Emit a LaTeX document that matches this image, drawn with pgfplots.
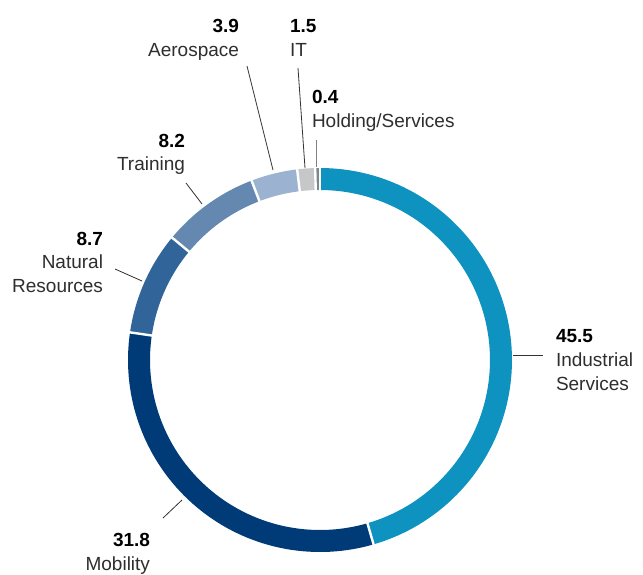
\documentclass[border=0pt]{standalone}
\usepackage{fontspec}
\setmainfont{Liberation Sans}
\usepackage{pgfplots}
\pgfplotsset{compat=1.18}
\definecolor{cIS}{HTML}{0E92C0}
\definecolor{cMob}{HTML}{003B78}
\definecolor{cNR}{HTML}{31659A}
\definecolor{cTr}{HTML}{6488B0}
\definecolor{cAero}{HTML}{9BB3D0}
\definecolor{cIT}{HTML}{C5C7C8}
\definecolor{cHold}{HTML}{7D8790}
\definecolor{lbl}{HTML}{2E2E2E}
\definecolor{ldr}{HTML}{333333}
\newcommand\lf{\fontsize{19}{24}\selectfont}
\tikzset{lab/.style={font=\lf, inner sep=0pt, outer sep=0pt}}
\begin{document}
\begin{tikzpicture}
\begin{axis}[width=643pt,height=574pt,scale only axis,
  xmin=0,xmax=643,ymin=0,ymax=574,y dir=reverse,
  hide axis,clip=false]
\path (axis cs:0,0) rectangle (axis cs:643,574);
% shares (%): 45.5, 31.8, 8.7, 8.2, 3.9, 1.5, 0.4 ; cumulative 0,45.5,77.3,86.0,94.2,98.1,99.6,100
\addplot[cIS,  line width=22pt, domain=90-3.6*45.5:90-3.6*0,    samples=90] ({320+181*cos(x)},{360-181*sin(x)});
\addplot[cMob, line width=22pt, domain=90-3.6*77.3:90-3.6*45.5, samples=70] ({320+181*cos(x)},{360-181*sin(x)});
\addplot[cNR,  line width=22pt, domain=90-3.6*86.0:90-3.6*77.3, samples=25] ({320+181*cos(x)},{360-181*sin(x)});
\addplot[cTr,  line width=22pt, domain=90-3.6*94.2:90-3.6*86.0, samples=25] ({320+181*cos(x)},{360-181*sin(x)});
\addplot[cAero,line width=22pt, domain=90-3.6*98.1:90-3.6*94.2, samples=15] ({320+181*cos(x)},{360-181*sin(x)});
\addplot[cIT,  line width=22pt, domain=90-3.6*99.6:90-3.6*98.1, samples=8]  ({320+181*cos(x)},{360-181*sin(x)});
\addplot[cHold,line width=22pt, domain=90-3.6*100:90-3.6*99.6,  samples=4]  ({320+181*cos(x)},{360-181*sin(x)});
% white separators
\pgfplotsinvokeforeach{0,45.5,77.3,86.0,94.2,98.1,99.6}{
  \addplot[white, line width=2.4pt, domain=165:197, samples=2] ({320+x*cos(90-3.6*#1)},{360-x*sin(90-3.6*#1)});
}
% leader lines
\addplot[ldr, line width=0.8pt] coordinates {(513,355) (543,355)};
\addplot[ldr, line width=0.8pt] coordinates {(163,518) (182,500)};
\addplot[ldr, line width=0.8pt] coordinates {(115,269) (142,281)};
\addplot[ldr, line width=0.8pt] coordinates {(186,183) (202,204)};
\addplot[ldr, line width=0.8pt] coordinates {(247,66) (273,170)};
\addplot[ldr, line width=0.8pt] coordinates {(298,68) (305,168)};
\addplot[gray, line width=1pt] coordinates {(316,140) (316,167)};
% labels
\node[lab,anchor=base west] at (axis cs:556,342) {\textbf{45.5}};
\node[lab,anchor=base west,text=lbl] at (axis cs:556,366) {Industrial};
\node[lab,anchor=base west,text=lbl] at (axis cs:556,390) {Services};
\node[lab,anchor=base east] at (axis cs:150,546) {\textbf{31.8}};
\node[lab,anchor=base east,text=lbl] at (axis cs:150,570) {Mobility};
\node[lab,anchor=base east] at (axis cs:103,245) {\textbf{8.7}};
\node[lab,anchor=base east,text=lbl] at (axis cs:103,268) {Natural};
\node[lab,anchor=base east,text=lbl] at (axis cs:103,292) {Resources};
\node[lab,anchor=base east] at (axis cs:185,147) {\textbf{8.2}};
\node[lab,anchor=base east,text=lbl] at (axis cs:185,170) {Training};
\node[lab,anchor=base east] at (axis cs:239,32) {\textbf{3.9}};
\node[lab,anchor=base east,text=lbl] at (axis cs:239,56) {Aerospace};
\node[lab,anchor=base west] at (axis cs:290,32) {\textbf{1.5}};
\node[lab,anchor=base west,text=lbl] at (axis cs:290,56) {IT};
\node[lab,anchor=base west] at (axis cs:312,103) {\textbf{0.4}};
\node[lab,anchor=base west,text=lbl] at (axis cs:312,127) {Holding/Services};
\end{axis}
\end{tikzpicture}
\end{document}
